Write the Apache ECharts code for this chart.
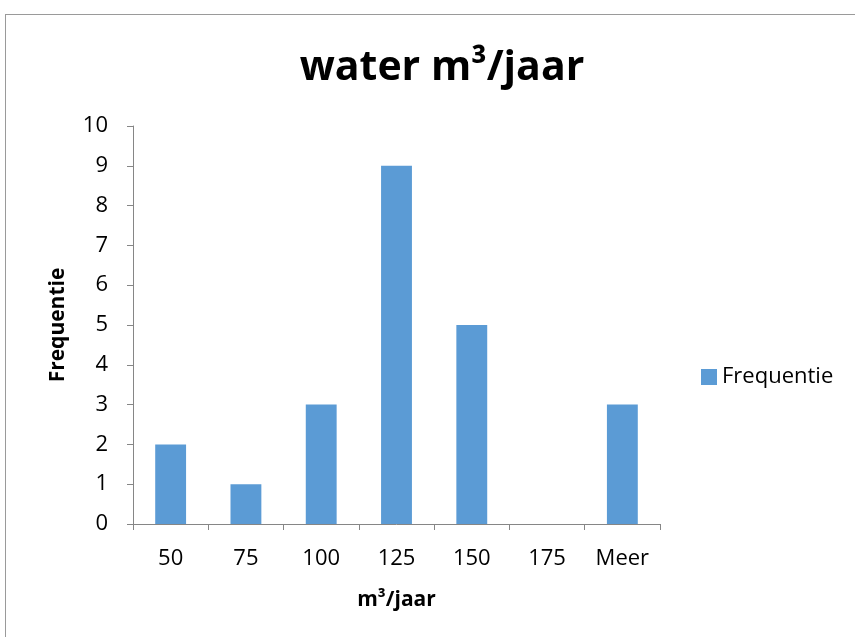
<!DOCTYPE html>
<html><head><meta charset="utf-8">
<script src="https://cdn.jsdelivr.net/npm/echarts@6/dist/echarts.min.js"></script>
<style>
html,body{margin:0;padding:0;background:#fff;}
#frame{position:absolute;left:5px;top:14px;width:860px;height:640px;border-top:1px solid #9a9a9a;border-left:1px solid #9a9a9a;}
#c{position:absolute;left:0;top:0;width:855px;height:637px;}
</style></head>
<body>
<div id="frame"></div>
<div id="c"></div>
<script>
const categories = ['50','75','100','125','150','175','Meer'];
const frequentie = [2,1,3,9,5,0,3];
const titleText = 'water m³/jaar';
const xName = 'm³/jaar';
const yName = 'Frequentie';
const seriesName = 'Frequentie';

const font = "'Open Sans', sans-serif";
const chart = echarts.init(document.getElementById('c'));
chart.setOption({
  animation:false,
  backgroundColor:'transparent',
  title:{text:titleText,left:437,textAlign:'center',top:43,
    textStyle:{fontSize:41,fontWeight:'bold',color:'#000',fontFamily:font}},
  legend:{orient:'vertical',left:696,top:361,itemWidth:16,itemHeight:16,itemGap:8,
    data:[{name:seriesName,icon:'rect'}],
    textStyle:{fontSize:22,color:'#000',fontFamily:font}},
  grid:{left:133,top:126,width:527,height:398,containLabel:false},
  xAxis:{type:'category',data:categories,boundaryGap:true,
    name:xName,nameLocation:'middle',nameGap:66,
    nameTextStyle:{fontSize:21,fontWeight:'bold',color:'#000',fontFamily:font},
    axisLine:{lineStyle:{color:'#868686',width:1}},
    axisTick:{show:true,length:6,alignWithLabel:false,lineStyle:{color:'#868686'}},
    axisLabel:{fontSize:22,color:'#000',margin:24,fontFamily:font}},
  yAxis:{type:'value',min:0,max:10,interval:1,
    name:yName,nameLocation:'middle',nameGap:64,nameRotate:90,
    nameTextStyle:{fontSize:21,fontWeight:'bold',color:'#000',fontFamily:font},
    axisLine:{show:true,lineStyle:{color:'#868686',width:1}},
    axisTick:{show:true,length:6,lineStyle:{color:'#868686'}},
    splitLine:{show:false},
    axisLabel:{fontSize:22,color:'#000',margin:25,fontFamily:font}},
  series:[{name:seriesName,type:'bar',data:frequentie,barWidth:'41%',
    itemStyle:{color:'#5B9BD5'}}]
});
</script>
</body></html>
